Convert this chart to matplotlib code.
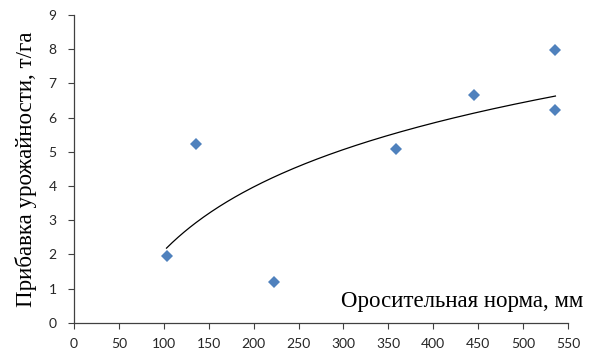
import numpy as np
import matplotlib.pyplot as plt

# Irrigation rate (mm) and yield increase (t/ha)
irrigation = [103, 136, 223, 358, 445, 536, 536]
yield_gain = [1.96, 5.22, 1.20, 5.08, 6.65, 7.97, 6.22]

x_ticks = list(range(0, 551, 50))
y_ticks = list(range(0, 10))

# logarithmic trend line fitted to the points
a, b = np.polyfit(np.log(irrigation), yield_gain, 1)
xt = np.linspace(min(irrigation), max(irrigation), 200)
yt = a * np.log(xt) + b

fig = plt.figure(figsize=(6.11, 3.56), dpi=100)
ax = fig.add_axes([0.1211, 0.0935, 0.8085, 0.8645])

ax.plot(xt, yt, color='black', linewidth=0.9, zorder=2)
ax.plot(irrigation, yield_gain, linestyle='none', marker='D', markersize=6.6,
        color='#4F81BD', markeredgewidth=0, zorder=3)

ax.set_xlim(0, 550)
ax.set_ylim(0, 9)
ax.set_xticks(x_ticks)
ax.set_yticks(y_ticks)

for side in ['top', 'right']:
    ax.spines[side].set_visible(False)
for side in ['left', 'bottom']:
    ax.spines[side].set_color('#404040')
    ax.spines[side].set_linewidth(0.9)

ax.tick_params(direction='out', length=4, width=0.8, color='#404040',
               labelsize=10, labelcolor='#262626')
ax.tick_params(axis='x', pad=7)
ax.tick_params(axis='y', pad=8.5)
for lbl in ax.get_xticklabels() + ax.get_yticklabels():
    lbl.set_family('Lato')

ax.set_ylabel('Прибавка урожайности, т/га', family='Liberation Serif',
              fontsize=16.5, labelpad=8)
ax.text(1.03, 0.05, 'Оросительная норма, мм', transform=ax.transAxes,
        ha='right', va='baseline', family='Liberation Serif', fontsize=16.5,
        clip_on=False)

fig.savefig('out.png', dpi=100)
